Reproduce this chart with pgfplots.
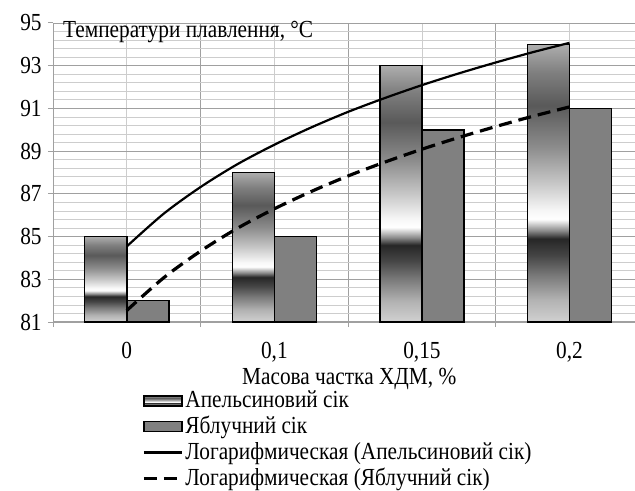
\documentclass[border=0pt]{standalone}
\usepackage{fontspec}
\setmainfont[FakeStretch=0.87]{Liberation Serif}
\usepackage{pgfplots}
\pgfplotsset{compat=1.18}

% banded grey gradient of the orange-juice bars (25bp = bar foot, 75bp = bar top)
\pgfdeclareverticalshading{orangeshade}{100bp}{%
  rgb(0bp)=(0.82,0.82,0.82); rgb(25bp)=(0.82,0.82,0.82);
  rgb(29bp)=(0.70,0.70,0.70); rgb(33.5bp)=(0.47,0.47,0.47);
  rgb(37bp)=(0.27,0.27,0.27); rgb(40bp)=(0.15,0.15,0.15);
  rgb(41.5bp)=(0.55,0.55,0.55); rgb(43.5bp)=(1,1,1);
  rgb(45bp)=(0.97,0.97,0.97); rgb(50bp)=(0.78,0.78,0.78);
  rgb(56.5bp)=(0.55,0.55,0.55); rgb(64bp)=(0.35,0.35,0.35);
  rgb(70bp)=(0.50,0.50,0.50); rgb(75bp)=(0.68,0.68,0.68);
  rgb(100bp)=(0.68,0.68,0.68)}

\definecolor{applegray}{RGB}{128,128,128}
\definecolor{majgrid}{RGB}{160,160,160}
\definecolor{mingrid}{RGB}{205,205,205}

\pgfplotsset{
  barlegend/.style={legend image code/.code={\draw[##1] (0bp,-5bp) rectangle (38bp,5bp);}},
  linelegend/.style={legend image code/.code={\draw[##1] (0bp,0bp) -- (38bp,0bp);}},
  orangebar/.style={ybar, bar width=0.285, bar shift=-0.1425,
    draw=black, line width=1.5bp, shade, shading=orangeshade, barlegend},
}

\begin{document}
\fontsize{24.5bp}{28bp}\selectfont
\begin{tikzpicture}
\begin{axis}[
    scale only axis,
    width=582bp, height=299bp,
    at={(0,0)}, anchor=south west,
    xmin=0.5, xmax=4.444,
    ymin=81, ymax=95,
    y coord trafo/.code={\pgfmathparse{#1-81}},
    y coord inv trafo/.code={\pgfmathparse{#1+81}},
    ytick={81,83,...,95},
    minor y tick num=4,
    ymajorgrids, yminorgrids,
    xtick={0.5,1.5,2.5,3.5},
    xticklabels={},
    xmajorgrids,
    minor xtick={1,2,3,4},
    xminorgrids,
    extra x ticks={1,2,3,4},
    extra x tick labels={0,{0,1},{0,15},{0,2}},
    extra x tick style={major tick length=0pt, grid=none},
    major grid style={draw=majgrid, line width=0.8bp},
    minor grid style={draw=mingrid, line width=0.8bp},
    tick align=outside,
    major tick length=5bp,
    minor tick length=0pt,
    tick style={draw=majgrid, line width=1bp},
    axis x line*=bottom,
    axis y line*=left,
    x axis line style={draw=majgrid, line width=2bp},
    y axis line style={draw=majgrid, line width=1bp},
    /pgf/number format/assume math mode=true,
    yticklabel style={xshift=2bp},
    xticklabel style={yshift=-12bp},
    title={Температури плавлення, °C},
    title style={at={(axis description cs:0.017,1)}, anchor=north west,
        inner sep=0pt, yshift=-4bp},
    xlabel={Масова частка ХДМ, \%},
    xlabel style={at={(axis description cs:0.509,-0.155)}, anchor=north, inner sep=0pt},
    legend style={at={(axis description cs:0.153,-0.222)}, anchor=north west,
        draw=none, fill=none, inner sep=0pt, row sep=1bp,
        nodes={inner sep=2bp}},
    legend cell align=left,
]
% one plot per orange bar, so that each bar carries its own gradient
\addplot[orangebar] coordinates {(1,85)};
\addplot[ybar, bar width=0.285, bar shift=0.1425,
    draw=black, line width=1.5bp, fill=applegray, barlegend]
    coordinates {(1,82) (2,85) (3,90) (4,91)};
\addplot[orangebar, forget plot] coordinates {(2,88)};
\addplot[orangebar, forget plot] coordinates {(3,93)};
\addplot[orangebar, forget plot] coordinates {(4,94)};
\addplot[black, line width=2.2bp, smooth, linelegend]
    coordinates {(1,84.54) (1.25,86.07) (1.5,87.32) (1.75,88.39) (2,89.30)
        (2.25,90.11) (2.5,90.84) (2.75,91.49) (3,92.09) (3.25,92.64)
        (3.5,93.15) (3.75,93.63) (4,94.07)};
\addplot[black, line width=3.2bp, dash pattern=on 13bp off 7bp, smooth, linelegend]
    coordinates {(1,81.54) (1.25,83.07) (1.5,84.32) (1.75,85.39) (2,86.30)
        (2.25,87.11) (2.5,87.84) (2.75,88.49) (3,89.09) (3.25,89.64)
        (3.5,90.15) (3.75,90.63) (4,91.07)};
\legend{Апельсиновий сік, Яблучний сік,
    Логарифмическая (Апельсиновий сік), Логарифмическая (Яблучний сік)}
\end{axis}
\pgfresetboundingbox
\path[use as bounding box] (-53bp,-169bp) rectangle (582bp,322bp);
\end{tikzpicture}
\end{document}
